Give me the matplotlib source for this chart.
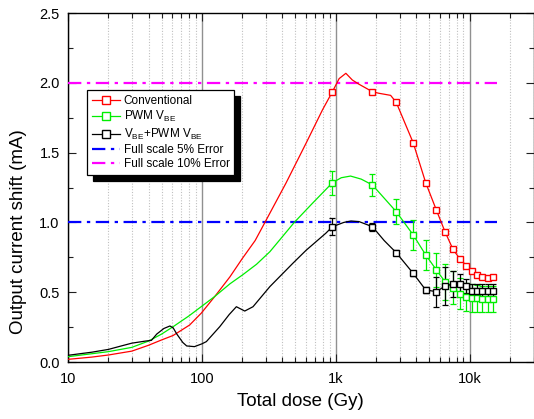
import numpy as np
import matplotlib
matplotlib.use("Agg")
import matplotlib.pyplot as plt
from matplotlib.ticker import FixedLocator, FixedFormatter, MultipleLocator, FormatStrFormatter

plt.rcParams['font.family'] = ['Liberation Sans', 'DejaVu Sans']
plt.rcParams['mathtext.fontset'] = 'custom'
plt.rcParams['mathtext.rm'] = 'Liberation Sans'
plt.rcParams['mathtext.it'] = 'Liberation Sans:italic'

# ---------------- data ----------------
# dense (unmarked) portions of the curves
conv_curve_x = [10, 15, 20, 30, 40, 50, 61, 81, 99, 125, 162, 200, 250, 292, 424, 600, 795,
                1060, 1190, 1330, 1490, 2100, 2570]
conv_curve_y = [0.019, 0.035, 0.05, 0.078, 0.12, 0.158, 0.19, 0.265, 0.35, 0.47, 0.61, 0.74, 0.87,
                0.99, 1.28, 1.567, 1.805, 2.03, 2.068, 2.02, 1.99, 1.925, 1.91]

pwm_curve_x = [10, 20, 30, 40, 50, 61, 80, 100, 125, 162, 202, 256, 322, 381, 490, 670,
               1100, 1290, 1550]
pwm_curve_y = [0.038, 0.074, 0.105, 0.15, 0.2, 0.253, 0.33, 0.4, 0.47, 0.56, 0.625, 0.70, 0.79,
               0.874, 1.0, 1.137, 1.32, 1.332, 1.31]

vbe_curve_x = [10, 15, 20, 25, 30, 38, 42, 46, 52, 57.7, 61, 65, 72, 77, 88, 100, 108, 136, 160,
               181, 209, 241, 322, 478, 600, 842, 1150, 1300, 1500, 2300]
vbe_curve_y = [0.048, 0.07, 0.09, 0.115, 0.135, 0.15, 0.155, 0.2, 0.24, 0.258, 0.245, 0.2, 0.14,
               0.115, 0.11, 0.13, 0.146, 0.253, 0.34, 0.396, 0.365, 0.396, 0.54, 0.707, 0.80,
               0.922, 1.0, 1.01, 1.005, 0.87]

# measured points (markers)
mark_x = [944, 1880, 2830, 3790, 4700, 5640, 6550, 7510, 8470, 9470, 10400, 11400, 12400, 13700, 14900]
conv_mark_y = [1.936, 1.936, 1.86, 1.57, 1.284, 1.089, 0.933, 0.807, 0.738, 0.69, 0.654, 0.623,
               0.607, 0.600, 0.611]
pwm_mark_y = [1.284, 1.268, 1.077, 0.91, 0.767, 0.66, 0.575, 0.532, 0.49, 0.468, 0.46, 0.455,
              0.45, 0.45, 0.45]
pwm_err = [0.085, 0.08, 0.088, 0.106, 0.11, 0.12, 0.13, 0.12, 0.11, 0.1, 0.1, 0.1, 0.095, 0.095, 0.095]
vbe_mark_y = [0.969, 0.969, 0.783, 0.635, 0.516, 0.504, 0.544, 0.56, 0.56, 0.545, 0.51, 0.51,
              0.51, 0.51, 0.51]
vbe_err = [0.062, 0.03, 0.02, 0.02, 0.02, 0.107, 0.137, 0.095, 0.07, 0.05, 0.05, 0.05, 0.05, 0.05, 0.05]

ref_x = [10, 16000]
ref_5pct = [1.0, 1.0]
ref_10pct = [2.0, 2.0]

x_ticks = [10, 100, 1000, 10000]
x_labels = ['10', '100', '1k', '10k']

labels = ['Conventional', r'PWM V$_{\mathrm{BE}}$', r'V$_{\mathrm{BE}}$+PWM V$_{\mathrm{BE}}$',
          'Full scale 5% Error', 'Full scale 10% Error']

RED = '#ff0000'
GREEN = '#00ee00'
BLACK = '#000000'
BLUE = '#0000ff'
MAGENTA = '#ff00ff'


def merged(cx, cy, mx, my):
    pts = sorted(list(zip(cx, cy)) + list(zip(mx, my)))
    return [p[0] for p in pts], [p[1] for p in pts]


fig = plt.figure(figsize=(5.34, 4.19), dpi=100)
ax = fig.add_axes([68 / 534, 57 / 419, 465.5 / 534, 349 / 419])
ax.set_xscale('log')

# reference lines
l10, = ax.plot(ref_x, ref_10pct, color=MAGENTA, lw=1.6, ls=(0, (6, 2.5, 1.5, 2.5)), zorder=3)
l5, = ax.plot(ref_x, ref_5pct, color=BLUE, lw=1.6, ls=(0, (6, 2.5, 1.5, 2.5)), zorder=3)

series = [
    (conv_curve_x, conv_curve_y, conv_mark_y, None, RED),
    (pwm_curve_x, pwm_curve_y, pwm_mark_y, pwm_err, GREEN),
    (vbe_curve_x, vbe_curve_y, vbe_mark_y, vbe_err, BLACK),
]
handles = []
for cx, cy, my, err, col in series:
    lx, ly = merged(cx, cy, mark_x, my)
    ax.plot(lx, ly, color=col, lw=0.9, zorder=4)
    if err is not None:
        ax.errorbar(mark_x, my, yerr=err, fmt='none', ecolor=col, elinewidth=0.9,
                    capsize=2.5, capthick=0.9, zorder=4)
    ax.plot(mark_x, my, ls='none', marker='s', ms=5, mfc='white', mec=col, mew=1.0, zorder=5)
    h, = ax.plot([], [], color=col, lw=0.9, marker='s', ms=5.5, mfc='white', mec=col, mew=1.0)
    handles.append(h)
handles += [l5, l10]

ax.set_xlim(10, 30000)
ax.set_ylim(0, 2.5)

ax.xaxis.set_major_locator(FixedLocator(x_ticks))
ax.xaxis.set_major_formatter(FixedFormatter(x_labels))
minors = [m * 10 ** e for e in range(1, 5) for m in range(2, 10)]
ax.xaxis.set_minor_locator(FixedLocator(minors))
ax.xaxis.set_minor_formatter(FixedFormatter([]))
ax.yaxis.set_major_locator(MultipleLocator(0.5))
ax.yaxis.set_minor_locator(MultipleLocator(0.25))
ax.yaxis.set_major_formatter(FormatStrFormatter('%.1f'))

ax.grid(True, which='major', axis='x', color='#909090', lw=1.0, ls='-')
ax.grid(True, which='minor', axis='x', color='#c0c0c0', lw=0.8, ls=(0, (1, 1.5)))
ax.set_axisbelow(True)

ax.tick_params(which='both', direction='in', top=True, right=True, labelsize=10.5, color='#202020')
ax.tick_params(which='major', length=6, width=0.8, pad=6)
ax.tick_params(which='minor', length=3.5, width=0.8)
ax.tick_params(axis='x', which='major', pad=7)
for s in ax.spines.values():
    s.set_linewidth(1.0)

ax.set_xlabel('Total dose (Gy)', fontsize=13.5)
ax.set_ylabel('Output current shift (mA)', fontsize=13.5)
ax.xaxis.set_label_coords(0.5, -0.089)
ax.yaxis.set_label_coords(-0.088, 0.375)

leg = ax.legend(handles, labels, loc='upper left', bbox_to_anchor=(0.041, 0.779), borderaxespad=0,
                fontsize=8.5, frameon=True, fancybox=False, edgecolor='black', framealpha=1,
                handlelength=2.4, handletextpad=0.3, labelspacing=0.2, borderpad=0.4,
                shadow={'ox': 4, 'oy': -4, 'color': 'black', 'alpha': 1.0})
leg.get_frame().set_linewidth(0.9)

fig.savefig('out.png', dpi=100)
